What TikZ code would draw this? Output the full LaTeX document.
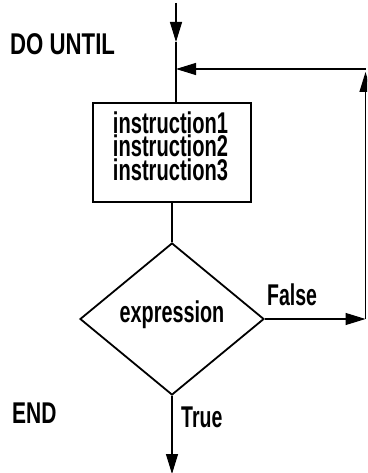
\documentclass[tikz,border=0pt]{standalone}
\usepackage{fontspec}
\usepackage{graphicx}
\setmainfont{Liberation Sans}
\usetikzlibrary{shapes.geometric,arrows.meta}
\newcommand\nar[2][0.72]{\scalebox{#1}[1]{#2}}
\begin{document}
\begin{tikzpicture}[x=1pt,y=-1pt,
  conn/.style={line width=1.2pt,black},
  tip/.style={-{Triangle[length=20pt,width=12pt]}},
  shapeline/.style={draw,line width=1.8pt},
  txtfont/.style={font=\fontsize{30}{23.5}\selectfont\bfseries},
  lbl/.style={inner sep=0pt,txtfont},
  stepbox/.style={shapeline,rectangle,minimum width=158pt,minimum height=99pt,inner sep=0pt},
  decision/.style={shapeline,diamond,minimum width=184pt,minimum height=152pt,inner sep=0pt,
    txtfont,text height=12pt,text depth=6pt}]
\useasboundingbox (0,0) rectangle (367,473);
\clip (0,0) rectangle (367,473);
% nodes
\node[stepbox] (body) at (172,152.5) {};
\node[lbl,align=center,anchor=north] (bodytext) at (170.5,111.5)
  {\nar[0.67]{instruction1}\\\nar[0.67]{instruction2}\\\nar[0.67]{instruction3}};
\node[decision] (cond) at (172,319) {\nar[0.66]{expression}};
\node[lbl,anchor=base west] (dountil) at (10,55) {\nar[0.74]{DO UNTIL}};
\node[lbl,anchor=base west] (endlbl) at (12,423) {\nar[0.7]{END}};
\node[lbl,anchor=base west] (falselbl) at (267,305) {\nar[0.65]{False}};
\node[lbl,anchor=base west] (truelbl) at (181,427) {\nar[0.65]{True}};
% coordinates
\coordinate (top) at (176,3);
\coordinate (arr1) at (176,42);
\coordinate (junc) at (176,69);
\coordinate (c1) at (365.5,319);
\coordinate (c2) at (365.5,69);
\coordinate (endp) at (172,474);
% connectors
\draw[conn,tip] (top) -- (arr1);
\draw[conn] (arr1) -- (junc) -- (junc |- body.north);
\draw[conn] (body.south) -- (cond.north);
\draw[conn,tip] (cond.east) -- (c1);
\draw[conn,tip,shorten >=3pt] (c1) -- (c2);
\draw[conn] (c2) -- ([yshift=-0.6pt]c2);
\draw[conn,tip] (c2) -- (junc);
\draw[conn,tip] (cond.south) -- (endp);
\end{tikzpicture}
\end{document}
